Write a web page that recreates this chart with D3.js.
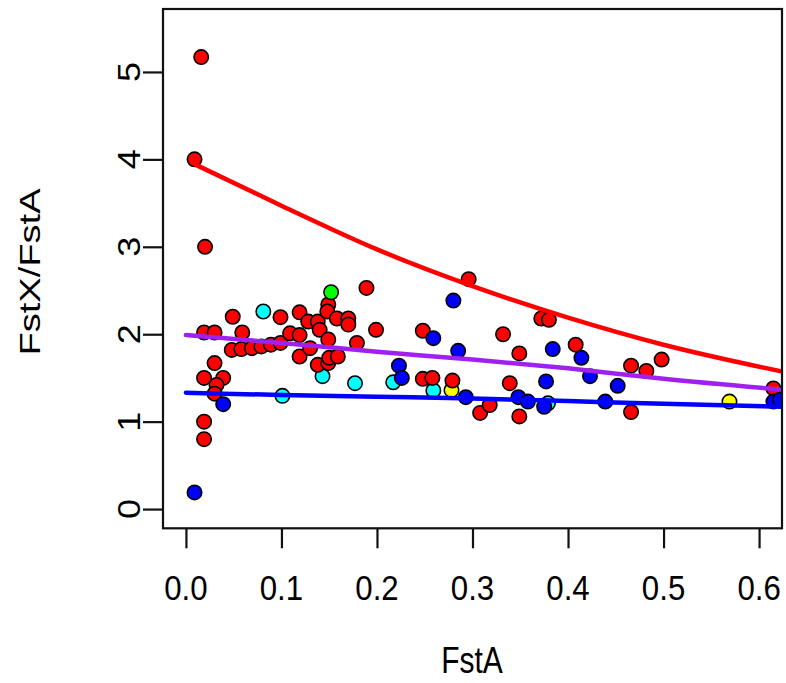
<!DOCTYPE html>
<html>
<head>
<meta charset="utf-8">
<script src="https://cdn.jsdelivr.net/npm/d3@7/dist/d3.min.js"></script>
<style>
  body { margin: 0; background: #fff; }
  text { font-family: "Liberation Sans", Arial, Helvetica, sans-serif; fill: #000; }
</style>
</head>
<body>
<div id="chart"></div>
<script>
// values (FstA, FstX/FstA)
var redFstA  = [0.016, 0.009, 0.020, 0.049, 0.099, 0.119, 0.019, 0.030, 0.059, 0.048, 0.058, 0.069, 0.079, 0.089, 0.099,
                0.109, 0.119, 0.119, 0.130, 0.128, 0.138, 0.030, 0.019, 0.039, 0.032, 0.030, 0.019, 0.019,
                0.140, 0.149, 0.138, 0.149, 0.150, 0.159, 0.149, 0.148, 0.158, 0.170, 0.170, 0.179,
                0.189, 0.199, 0.248, 0.248, 0.258, 0.279, 0.296, 0.308, 0.318,
                0.372, 0.380, 0.332, 0.349, 0.408, 0.339, 0.349, 0.466, 0.482, 0.498, 0.466, 0.615];
var redRatio = [5.17, 4.00, 3.00, 2.20, 2.195, 2.25, 2.02, 2.02, 2.02, 1.82, 1.83, 1.84, 1.86, 1.88, 1.90,
                2.01, 1.99, 1.745, 1.84, 2.145, 2.145, 1.67, 1.50, 1.50, 1.42, 1.32, 1.00, 0.80,
                2.05, 1.94, 1.65, 1.67, 1.73, 1.745, 2.34, 2.26, 2.18, 2.18, 2.11, 1.90,
                2.53, 2.05, 2.04, 1.49, 1.50, 1.47, 2.63, 1.10, 1.19,
                2.18, 2.165, 2.00, 1.78, 1.88, 1.44, 1.06, 1.64, 1.58, 1.71, 1.11, 1.38];

var blueFstA  = [0.009, 0.039, 0.223, 0.226, 0.259, 0.285, 0.280, 0.293, 0.384, 0.414, 0.423, 0.452,
                 0.377, 0.348, 0.358, 0.375, 0.439, 0.615, 0.622];
var blueRatio = [0.19, 1.20, 1.64, 1.50, 1.955, 1.81, 2.385, 1.28, 1.83, 1.73, 1.52, 1.41,
                 1.46, 1.28, 1.23, 1.17, 1.23, 1.23, 1.25];

var cyanFstA  = [0.081, 0.101, 0.143, 0.177, 0.217, 0.259, 0.379];
var cyanRatio = [2.26, 1.295, 1.52, 1.44, 1.45, 1.356, 1.21];

var greenFstA  = [0.152];
var greenRatio = [2.48];

var yellowFstA  = [0.278, 0.569];
var yellowRatio = [1.36, 1.23];

// fitted curves, read at a few x positions
var redCurveX    = [0.01, 0.1, 0.2, 0.3, 0.4, 0.5, 0.63];
var redCurveY    = [3.94, 3.47, 2.97, 2.55, 2.19, 1.88, 1.56];
var fitCurveX    = [0.0, 0.1, 0.2, 0.3, 0.4, 0.5, 0.63];
var purpleCurveY = [1.99, 1.90, 1.80, 1.71, 1.61, 1.49, 1.36];
var blueCurveY   = [1.33, 1.305, 1.285, 1.265, 1.235, 1.205, 1.17];

var xTicks = [0, 0.1, 0.2, 0.3, 0.4, 0.5, 0.6];
var yTicks = [0, 1, 2, 3, 4, 5];

(() => {
  var W = 786, H = 683;
  // plot box edges
  var boxL = 163, boxR = 782, boxT = 9, boxB = 528.3;

  var svg = d3.select('#chart').append('svg')
    .attr('width', W)
    .attr('height', H);

  var x = d3.scaleLinear().domain([-0.024, 0.624]).range([boxL, boxR]);
  var y = d3.scaleLinear().domain([-0.22, 5.72]).range([boxB, boxT]);

  svg.append('clipPath').attr('id', 'plotclip')
    .append('rect')
    .attr('x', boxL).attr('y', boxT)
    .attr('width', boxR - boxL).attr('height', boxB - boxT);

  // axes: ticks only, labels drawn separately
  var xAxis = svg.append('g')
    .attr('transform', 'translate(0,' + boxB + ')')
    .call(d3.axisBottom(x).tickValues(xTicks).tickSize(20).tickFormat(''));
  var yAxis = svg.append('g')
    .attr('transform', 'translate(' + boxL + ',0)')
    .call(d3.axisLeft(y).tickValues(yTicks).tickSize(20).tickFormat(''));
  [xAxis, yAxis].forEach(function (g) {
    g.select('.domain').remove();
    g.selectAll('line').attr('stroke', '#111').attr('stroke-width', 2.2);
  });

  svg.selectAll('.xlab')
    .data(xTicks)
    .enter().append('text')
    .attr('class', 'xlab')
    .attr('transform', function (d) { return 'translate(' + x(d) + ',600) scale(1.04,1.18)'; })
    .attr('text-anchor', 'middle')
    .style('font-size', '30px')
    .text(function (d) { return d.toFixed(1); });

  svg.selectAll('.ylab')
    .data(yTicks)
    .enter().append('text')
    .attr('class', 'ylab')
    .attr('transform', function (d) { return 'translate(140,' + y(d) + ') rotate(-90) scale(1.2,1.02)'; })
    .attr('text-anchor', 'middle')
    .style('font-size', '30px')
    .text(function (d) { return d; });

  svg.append('text')
    .attr('transform', 'translate(472,673) scale(1,1.2)')
    .attr('text-anchor', 'middle')
    .style('font-size', '30px')
    .text('FstA');

  svg.append('text')
    .attr('transform', 'translate(40,272) rotate(-90) scale(1.27,1)')
    .attr('text-anchor', 'middle')
    .style('font-size', '30px')
    .text('FstX/FstA');

  var plot = svg.append('g').attr('clip-path', 'url(#plotclip)');

  // points
  function pts(xs, ys, col) {
    return xs.map(function (v, i) { return { fst: v, ratio: ys[i], col: col }; });
  }
  var allPoints = [].concat(
    pts(cyanFstA, cyanRatio, '#00ffff'),
    pts(yellowFstA, yellowRatio, '#ffff00'),
    pts(redFstA, redRatio, '#ff0000'),
    pts(blueFstA, blueRatio, '#0000ff'),
    pts(greenFstA, greenRatio, '#00ff00')
  );

  plot.selectAll('circle')
    .data(allPoints)
    .enter().append('circle')
    .attr('cx', function (d) { return x(d.fst); })
    .attr('cy', function (d) { return y(d.ratio); })
    .attr('r', 7.2)
    .attr('fill', function (d) { return d.col; })
    .attr('stroke', '#000')
    .attr('stroke-width', 1.6);

  // curves drawn over the points
  var line = d3.line()
    .x(function (d) { return x(d[0]); })
    .y(function (d) { return y(d[1]); })
    .curve(d3.curveMonotoneX);

  var curves = [
    { xs: redCurveX, ys: redCurveY, col: '#ff0000' },
    { xs: fitCurveX, ys: purpleCurveY, col: '#a020f0' },
    { xs: fitCurveX, ys: blueCurveY, col: '#0000ff' }
  ];
  curves.forEach(function (c) {
    plot.append('path')
      .datum(c.xs.map(function (v, i) { return [v, c.ys[i]]; }))
      .attr('d', line)
      .attr('fill', 'none')
      .attr('stroke', c.col)
      .attr('stroke-width', 4.5)
      .attr('stroke-linecap', 'round');
  });

  // box
  svg.append('rect')
    .attr('x', boxL).attr('y', boxT)
    .attr('width', boxR - boxL).attr('height', boxB - boxT)
    .attr('fill', 'none')
    .attr('stroke', '#111')
    .attr('stroke-width', 2.2);
})();
</script>
</body>
</html>
